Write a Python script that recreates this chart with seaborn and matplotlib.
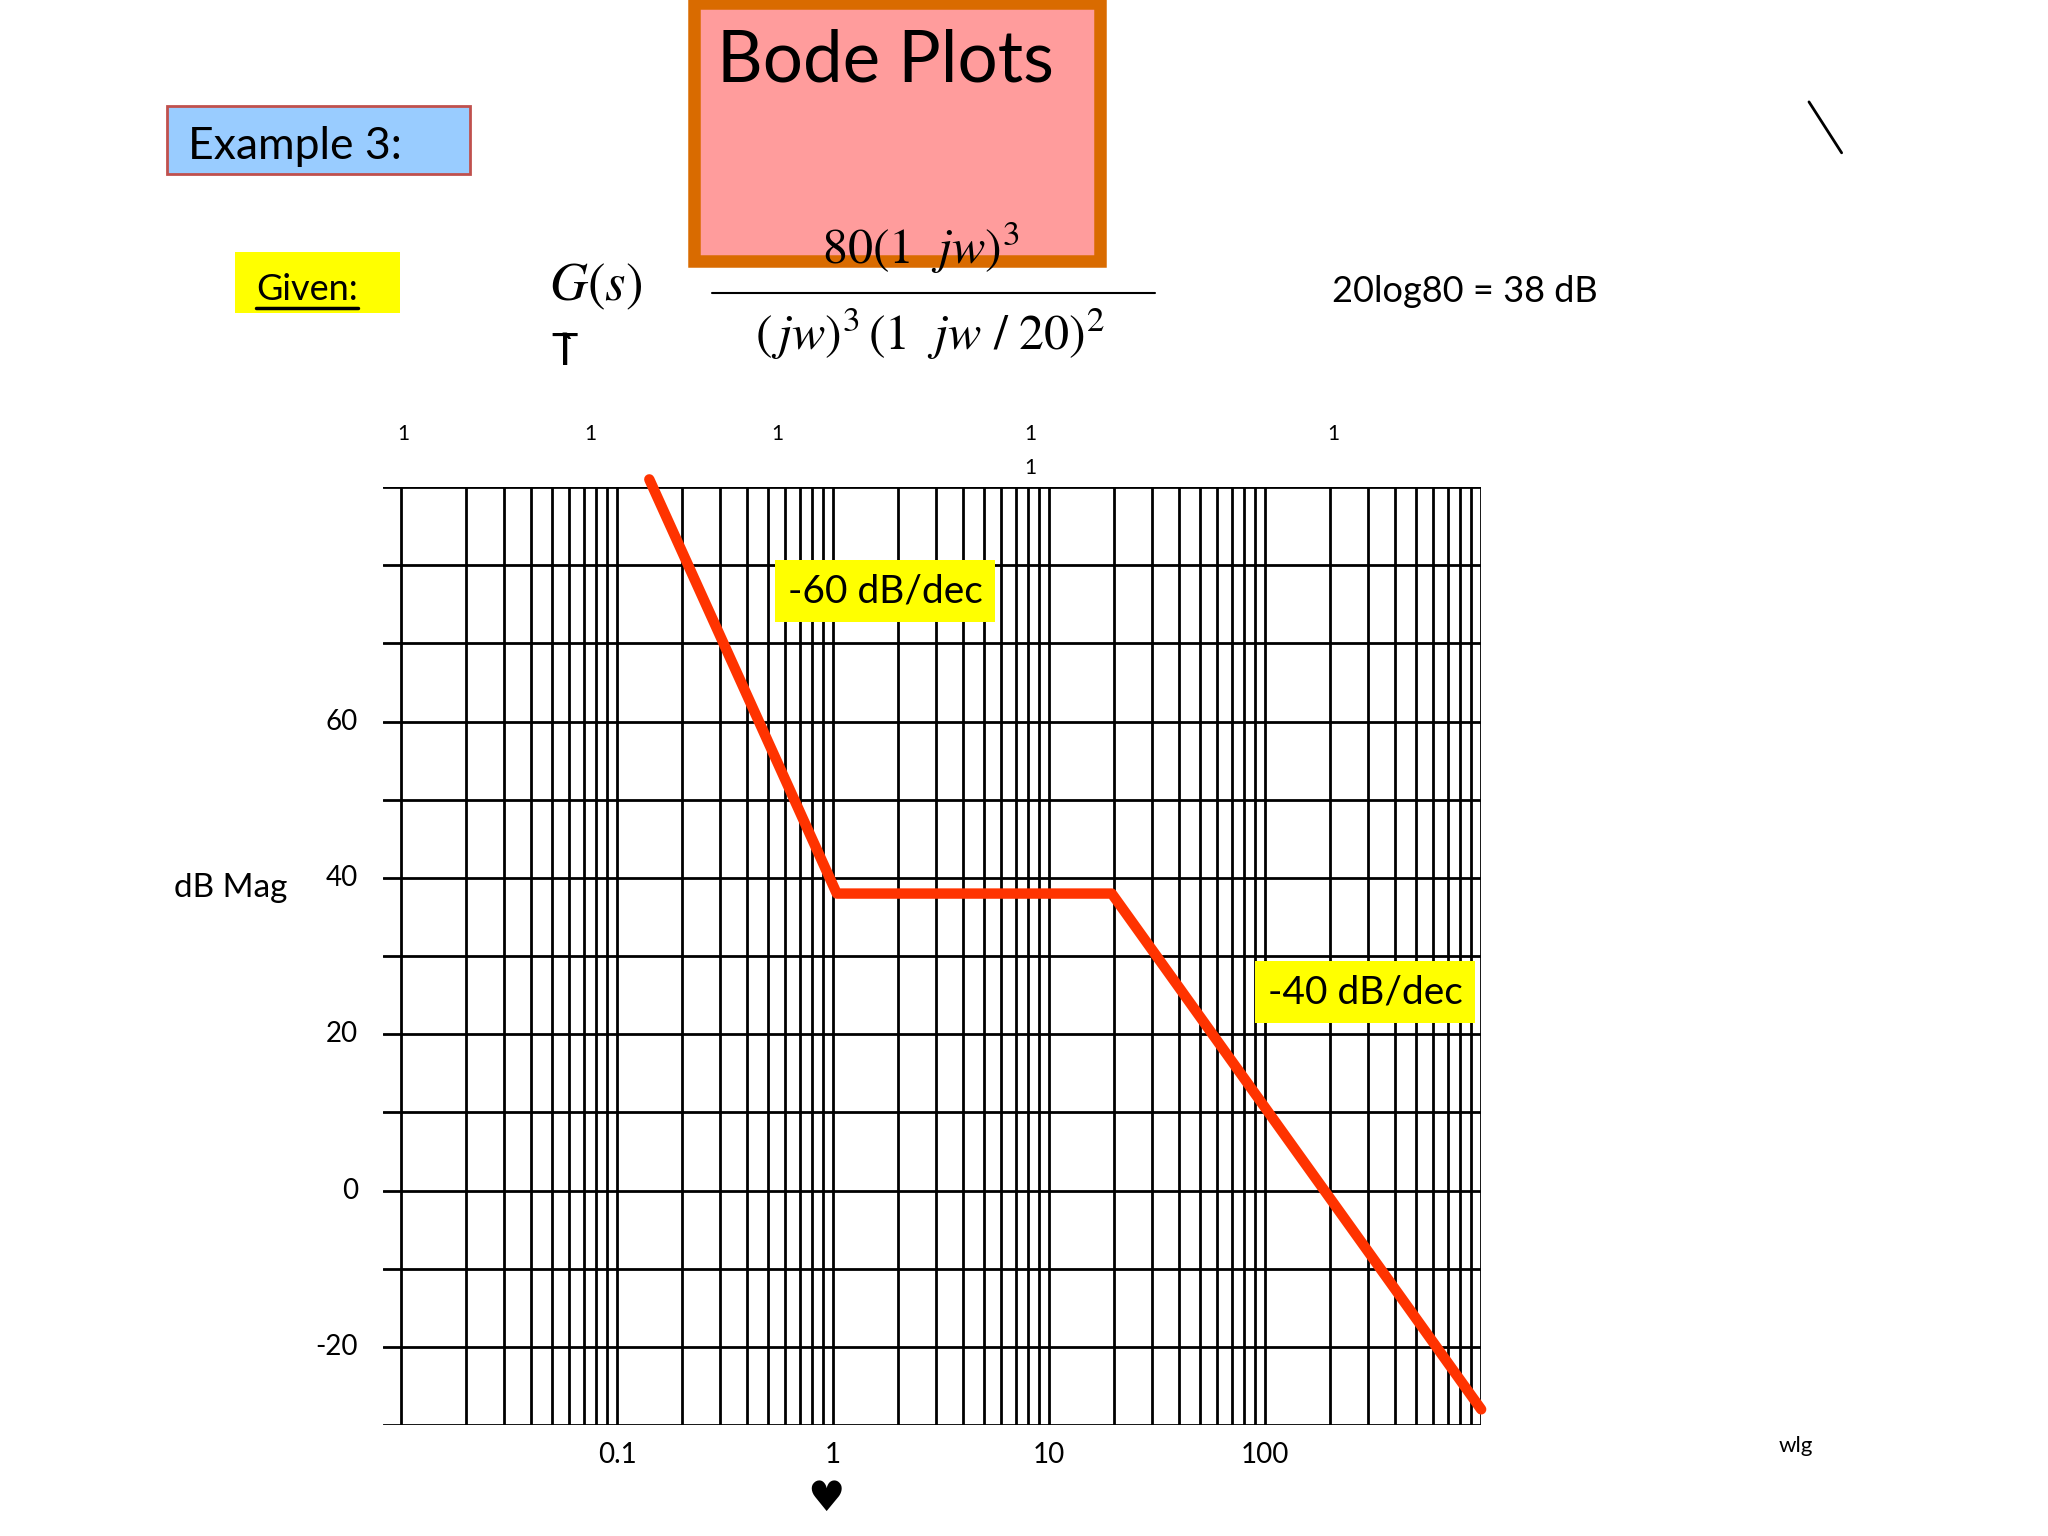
import numpy as np
import pandas as pd
import matplotlib
matplotlib.use('Agg')
import matplotlib.pyplot as plt
from matplotlib.patches import Rectangle
from matplotlib.lines import Line2D
import seaborn as sns

# asymptotic magnitude curve (corner points)
w_pts = [0.141, 1.04, 19.5, 1000]
db_pts = [91, 38, 38, -28]
x_labels = ['0.1', '1', '10', '100']
x_label_pos = [0.1, 1, 10, 100]
y_labels = ['60', '40', '20', '0', '-20']
y_label_pos = [60, 40, 20, 0, -20]

W, H = 1568, 1176  # layout reference frame


def fx(x):
    return x / W


def fy(y):
    return 1 - y / H


sns.set_style('white')
plt.rcParams['font.family'] = ['Lato', 'DejaVu Sans']
plt.rcParams['text.color'] = 'black'

fig = plt.figure(figsize=(20.48, 15.36), dpi=100)
ax = fig.add_axes([fx(293), fy(1091), fx(1134) - fx(293), fy(373) - fy(1091)])
ax.set_xscale('log')
ax.set_xlim(10 ** -2.085, 1000)
ax.set_ylim(-30, 90)

# log-paper grid
for k in range(-2, 3):
    for j in range(1, 10):
        ax.axvline(j * 10.0 ** k, color='black', lw=2.0, zorder=1)
ax.axvline(1000, color='black', lw=2.0, zorder=1)
for yv in range(-30, 91, 10):
    ax.axhline(yv, color='black', lw=2.0, zorder=1)
for s in ax.spines.values():
    s.set_visible(False)
ax.set_xticks([])
ax.set_yticks([])
ax.minorticks_off()

df = pd.DataFrame({'w': w_pts, 'db': db_pts})
sns.lineplot(data=df, x='w', y='db', ax=ax, color='#FF3300', lw=7.5,
             sort=False, zorder=3, clip_on=False)
ax.set_xlabel('')
ax.set_ylabel('')

for lab, pos in zip(x_labels, x_label_pos):
    ax.text(pos, -33.8, lab, ha='center', va='center', fontsize=20)
for lab, pos in zip(y_labels, y_label_pos):
    ax.text(10 ** -2.2, pos, lab, ha='right', va='center', fontsize=20)

# slope labels
ax.text(1.74, 76.7, '-60 dB/dec', ha='center', va='center', fontsize=28,
        bbox=dict(boxstyle='square,pad=0.33', fc='#FFFF00', ec='none'), zorder=4)
ax.text(290, 25.4, '-40 dB/dec', ha='center', va='center', fontsize=28,
        bbox=dict(boxstyle='square,pad=0.33', fc='#FFFF00', ec='none'), zorder=4)

# title box
fig.patches.append(Rectangle((fx(531), fy(200)), fx(842) - fx(531), fy(2) - fy(200),
                             transform=fig.transFigure, fc='#FF9C9C', ec='#D96B00',
                             lw=9, zorder=0))
fig.text(fx(549), fy(47), 'Bode Plots', fontsize=51, va='center', ha='left')

fig.patches.append(Rectangle((fx(128), fy(133)), fx(360) - fx(128), fy(81) - fy(133),
                             transform=fig.transFigure, fc='#99CCFF', ec='#C0504D',
                             lw=2, zorder=0))
fig.text(fx(144), fy(112), 'Example 3:', fontsize=32, va='center', ha='left')

fig.patches.append(Rectangle((fx(180), fy(240)), fx(306) - fx(180), fy(193) - fy(240),
                             transform=fig.transFigure, fc='#FFFF00', ec='none', zorder=0))
fig.text(fx(196), fy(222), 'Given:', fontsize=26, va='center', ha='left')
fig.add_artist(Line2D([fx(196), fx(274)], [fy(236), fy(236)], color='black', lw=2.5))

# transfer function
fig.text(fx(420), fy(220), r'$G(s)$', fontsize=38, va='center', ha='left',
         math_fontfamily='stix')
fig.text(fx(422), fy(270), 'T\u0300', fontsize=32, va='center', ha='left')
fig.text(fx(705), fy(190), r'$80(1\ \ jw)^3$', fontsize=36, va='center', ha='center',
         math_fontfamily='stix')
fig.add_artist(Line2D([fx(545), fx(884)], [fy(224), fy(224)], color='black', lw=1.5))
fig.text(fx(712), fy(256), r'$(\,jw)^3\,(1\ \ jw\ /\ 20)^2$', fontsize=36, va='center',
         ha='center', math_fontfamily='stix')
fig.text(fx(1020), fy(223), '20log80 = 38 dB', fontsize=26, va='center', ha='left')

fig.add_artist(Line2D([fx(1385), fx(1410)], [fy(78), fy(117)], color='black', lw=2))

# stray "1" labels above the grid
for xt in [309, 452, 595, 789, 1021]:
    fig.text(fx(xt), fy(332), '1', fontsize=15, ha='center', va='center')
fig.text(fx(789), fy(358), '1', fontsize=15, ha='center', va='center')

fig.text(fx(133), fy(680), 'dB Mag', fontsize=24, va='center', ha='left')
fig.text(fx(1362), fy(1107), 'wlg', fontsize=16, va='center', ha='left')
fig.text(fx(632), fy(1148), '\u2665', fontsize=30, va='center', ha='center')

fig.savefig('out.png', dpi=100)
